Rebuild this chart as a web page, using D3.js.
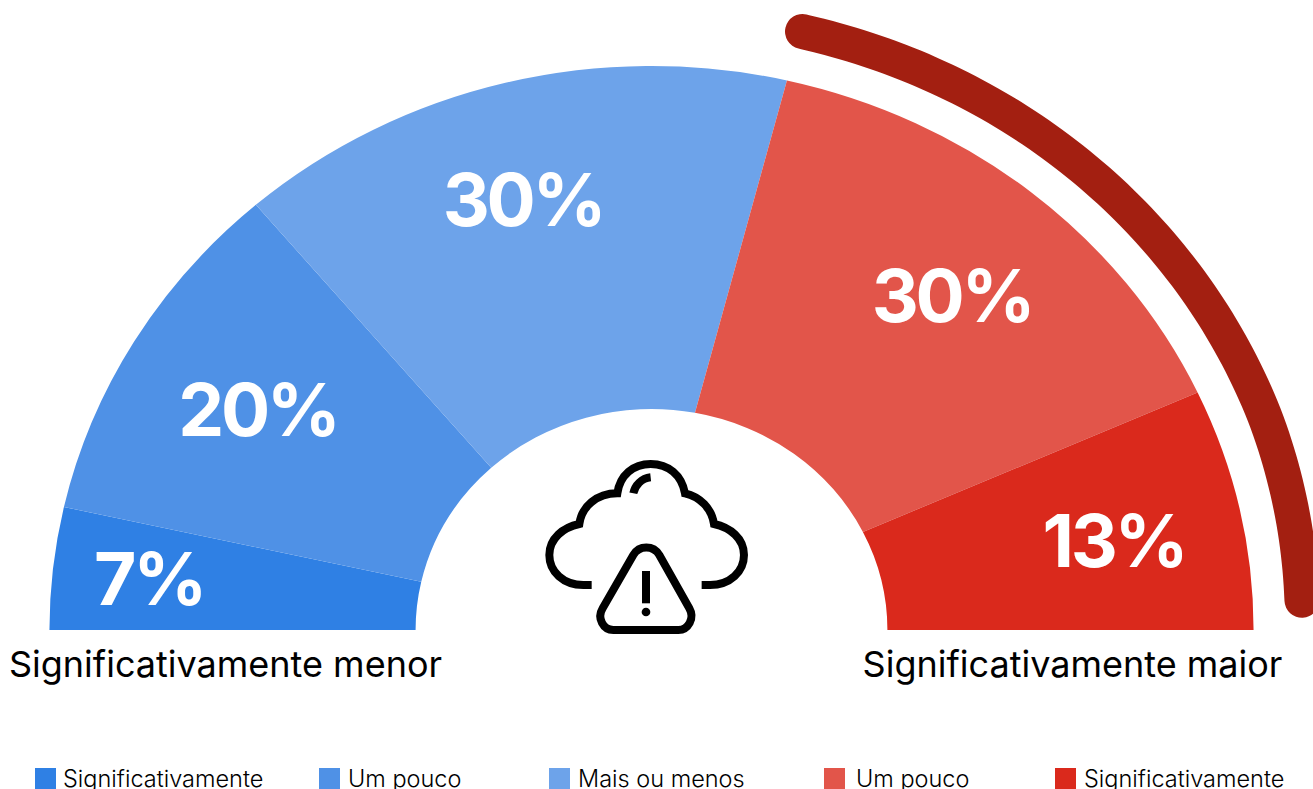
<!DOCTYPE html>
<html><head><meta charset="utf-8">
<script src="https://cdn.jsdelivr.net/npm/d3@7"></script>
<style>html,body{margin:0;padding:0;background:#fff;overflow:hidden}svg{display:block;font-family:Inter,sans-serif}</style>
</head><body><svg id="c" width="1313" height="789"></svg>
<script>
const categories = ["Significativamente","Um pouco","Mais ou menos","Um pouco","Significativamente"];
const values = [7,20,30,30,13];
const labels = ["7%","20%","30%","30%","13%"];
const colors = ["#2f80e4","#4f91e6","#6da3ea","#e2554a","#da291c"];
const endLabels = ["Significativamente menor","Significativamente maior"];
// the slice edges in the source are slightly skewed: degrees added at the outer and inner rim
const outerSkew = [0,0,0.32,0.4,-1.5,0];
const innerSkew = [0,0,-1.39,-1.98,-2.95,0];
const legendX = [35,319,549,824,1055];
const legendTextDx = [28,29,29,32,29];
const labelPos = [[149,605],[258,436],[523,226],[952,322],[1114,567]];

const svg = d3.select("#c");
const cx = 651.5, cy = 630, sx = 1.0675;
const R = 564, r = 221, rad = Math.PI/180;
const pie = d3.pie().sort(null).value(d=>d).startAngle(-Math.PI/2).endAngle(Math.PI/2);
const arcs = pie(values);
const g = svg.append("g").attr("transform",`translate(${cx},${cy}) scale(${sx},1)`);
function slice(d,i){
  const p = d3.path(), q = Math.PI/2;
  const o0 = d.startAngle+outerSkew[i]*rad-q, o1 = d.endAngle+outerSkew[i+1]*rad-q;
  const n0 = d.startAngle+innerSkew[i]*rad-q, n1 = d.endAngle+innerSkew[i+1]*rad-q;
  p.arc(0,0,R,o0,o1,false);
  p.arc(0,0,r,n1,n0,true);
  p.closePath();
  return p.toString();
}
g.selectAll("path.s").data(arcs).join("path").attr("class","s").attr("d",slice).attr("fill",(d,i)=>colors[i]);

// bracket over the two red slices
const bracketStart = arcs[3].startAngle + 0.7*rad, bracketEnd = 87.2*rad;
const angle = d3.scaleLinear().domain([0,1]).range([bracketStart,bracketEnd]);
const radius = d3.scaleLinear().domain([13*rad,70*rad,87.5*rad]).range([615,613,610]);
const line = d3.lineRadial().angle(t=>angle(t)).radius(t=>radius(angle(t))).curve(d3.curveBasis);
g.append("path").attr("d",line(d3.range(0,1.0001,0.02))).attr("fill","none")
  .attr("stroke","#a31f11").attr("stroke-width",35).attr("stroke-linecap","round")
  .attr("vector-effect","non-scaling-stroke");

svg.selectAll("text.v").data(labels).join("text").attr("class","v")
  .attr("x",(d,i)=>labelPos[i][0]).attr("y",(d,i)=>labelPos[i][1])
  .attr("text-anchor","middle").attr("fill","#fff").attr("font-weight",750)
  .attr("font-size",73).attr("letter-spacing",-3.3).text(d=>d);

svg.append("text").attr("x",225.5).attr("y",677).attr("text-anchor","middle").attr("font-size",36).attr("font-weight",430).attr("fill","#000").text(endLabels[0]);
svg.append("text").attr("x",1072.5).attr("y",677).attr("text-anchor","middle").attr("font-size",36).attr("font-weight",430).attr("fill","#000").text(endLabels[1]);

const lg = svg.selectAll("g.l").data(categories).join("g").attr("class","l").attr("transform",(d,i)=>`translate(${legendX[i]},768)`);
lg.append("rect").attr("width",21).attr("height",21).attr("fill",(d,i)=>colors[i]);
lg.append("text").attr("x",(d,i)=>legendTextDx[i]).attr("y",19).attr("font-size",23.5).attr("font-weight",300).attr("fill","#000").text(d=>d);

// icon
const ic = svg.append("g").attr("transform","translate(530,440) scale(0.3333)").attr("fill","none").attr("stroke","#000").attr("stroke-width",24);
ic.append("path").attr("d","M185 435H160C100 435 58 395 58 345C58 295 100 262 148 252C155 200 200 160 262 160C270 105 310 72 362 72C415 72 455 105 465 160C510 170 545 205 552 252C600 262 642 295 642 345C642 395 600 435 540 435H515");
ic.append("path").attr("d","M310 160C315 135 335 115 362 112");
ic.append("path").attr("d","M310 345C328 315 370 315 388 345L478 505C495 535 475 570 445 570H250C220 570 200 535 218 505Z").attr("stroke-linejoin","round");
ic.append("path").attr("d","M348 393V490");
ic.append("circle").attr("cx",348).attr("cy",516).attr("r",13).attr("fill","#000").attr("stroke","none");
</script></body></html>
